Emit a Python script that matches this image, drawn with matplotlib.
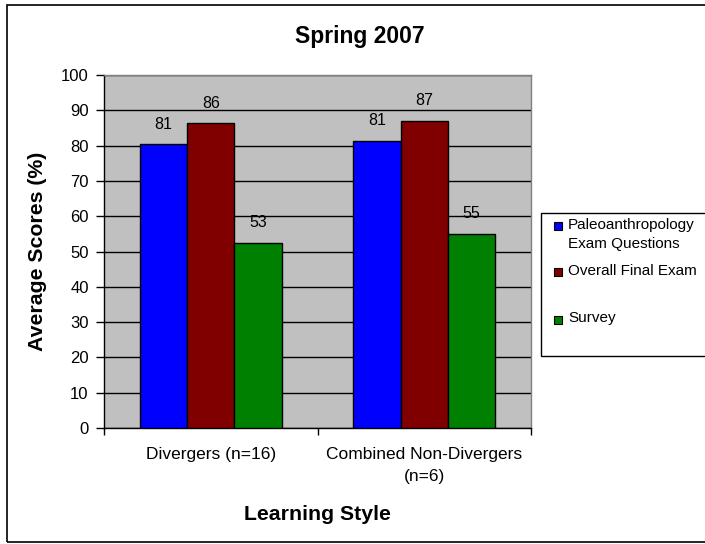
import matplotlib.pyplot as plt
import numpy as np
from matplotlib.patches import Rectangle

plt.rcParams["font.family"] = ["Liberation Sans", "DejaVu Sans"]

# Data
categories = ["Divergers (n=16)", "Combined Non-Divergers\n(n=6)"]
series = ["Paleoanthropology\nExam Questions", "Overall Final Exam", "Survey"]
paleo = [80.4, 81.4]
overall = [86.3, 87.1]
survey = [52.5, 55.0]
labels_paleo = ["81", "81"]
labels_overall = ["86", "87"]
labels_survey = ["53", "55"]
yticks = [0, 10, 20, 30, 40, 50, 60, 70, 80, 90, 100]

values = [paleo, overall, survey]
bar_labels = [labels_paleo, labels_overall, labels_survey]
colors = ["#0000FF", "#800000", "#008000"]

W, H = 705, 544
fig = plt.figure(figsize=(W / 100, H / 100), dpi=100)
ax = fig.add_axes([104 / W, 1 - 428 / H, (531 - 104) / W, (428 - 75) / H])
ax.set_facecolor("#C0C0C0")

x = np.arange(len(categories))
width = 0.2214
for i, vals in enumerate(values):
    pos = x + (i - 1) * width
    bars = ax.bar(pos, vals, width, color=colors[i], edgecolor="black",
                  linewidth=1, zorder=3)
    for b, lab in zip(bars, bar_labels[i]):
        ax.annotate(lab, (b.get_x() + b.get_width() / 2, b.get_height()),
                    xytext=(0, 14.5), textcoords="offset points",
                    ha="center", va="center", fontsize=11.5)

ax.set_xlim(-0.5, 1.5)
ax.set_ylim(0, 100)
ax.set_yticks(yticks)
ax.yaxis.grid(True, color="black", linewidth=1, zorder=0)
ax.set_axisbelow(True)

# category labels between boundary ticks (Excel style)
ax.set_xticks([-0.5, 0.5, 1.5])
ax.set_xticklabels(["", "", ""])
ax.set_xticks(x, minor=True)
ax.set_xticklabels(categories, minor=True, fontsize=12.5, linespacing=1.6)
ax.tick_params(axis="x", which="minor", length=0, pad=13.5)
ax.tick_params(axis="x", which="major", length=5, width=1, color="black")
ax.tick_params(axis="y", length=6, width=1, labelsize=12, pad=5)

for s in ["top", "right"]:
    ax.spines[s].set_color("#808080")
    ax.spines[s].set_linewidth(1)
for s in ["left", "bottom"]:
    ax.spines[s].set_color("black")
    ax.spines[s].set_linewidth(1)

ax.set_ylabel("Average Scores (%)", fontsize=15.3, fontweight="bold",
              va="center")
ax.yaxis.set_label_coords((38 - 104) / 427, 0.5)
fig.text(317 / W, 1 - 515 / H, "Learning Style", fontsize=15.3,
         fontweight="bold", ha="center", va="center")
fig.text(360 / W, 1 - 37 / H, "Spring 2007", fontsize=16.5,
         fontweight="bold", ha="center", va="center")

# legend box drawn Excel-style
fig.patches.append(Rectangle((541 / W, 1 - 356 / H), (720 - 541) / W,
                             (356 - 213) / H, transform=fig.transFigure,
                             facecolor="white", edgecolor="black", linewidth=1))
line_y = [[225, 244.3], [270.7], [318.3]]
marker_y = [225.5, 272, 320]
for name, c, ly, my in zip(series, colors, line_y, marker_y):
    fig.patches.append(Rectangle((554 / W, 1 - (my + 4) / H), 8 / W, 8 / H,
                                 transform=fig.transFigure, facecolor=c,
                                 edgecolor="black", linewidth=0.8))
    for part, y in zip(name.split("\n"), ly):
        fig.text(568 / W, 1 - y / H, part, fontsize=11, ha="left", va="center")

# outer chart border
fig.patches.append(Rectangle((7 / W, 1 - 542 / H), (720 - 7) / W, (542 - 5) / H,
                             transform=fig.transFigure, facecolor="none",
                             edgecolor="black", linewidth=1.2))

fig.savefig("out.png", dpi=100)
